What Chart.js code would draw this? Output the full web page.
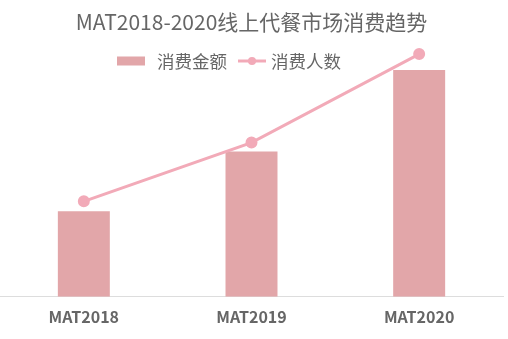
<!DOCTYPE html>
<html>
<head>
<meta charset="utf-8">
<script src="https://cdn.jsdelivr.net/npm/chart.js@4/dist/chart.umd.min.js"></script>
<style>
  html, body { margin: 0; padding: 0; background: #fff; }
  #wrap { width: 508px; height: 339px; }
</style>
</head>
<body>
<div id="wrap"><canvas id="chart"></canvas></div>
<script>
const categories = ["MAT2018", "MAT2019", "MAT2020"];
const amountValues = [33.3, 56.6, 88.4]; // 消费金额 (bars)
const userValues = [37.2, 60.1, 94.6]; // 消费人数 (line)

const barColor = "#e2a6a9";
const lineColor = "#f2aab8";
const textColor = "#666666";
const cjkFont = "'Microsoft YaHei', 'Noto Sans CJK SC', sans-serif";

// legend drawn by hand so it can sit over the plot like the original
const legendPlugin = {
  id: "customLegend",
  afterDraw(chart) {
    const ctx = chart.ctx;
    const y = 61;
    ctx.save();
    ctx.font = "17.5px " + cjkFont;
    ctx.textBaseline = "middle";

    let x = 117;
    ctx.fillStyle = barColor;
    ctx.fillRect(x, y - 4.5, 28, 9); // bar swatch
    ctx.fillStyle = textColor;
    ctx.fillText("消费金额", x + 40, y);
    x += 40 + ctx.measureText("消费金额").width + 11;

    ctx.strokeStyle = lineColor;
    ctx.lineWidth = 3;
    ctx.beginPath();
    ctx.moveTo(x, y);
    ctx.lineTo(x + 28, y);
    ctx.stroke();
    ctx.fillStyle = lineColor;
    ctx.beginPath();
    ctx.arc(x + 14, y, 4, 0, Math.PI * 2);
    ctx.fill();
    ctx.fillStyle = textColor;
    ctx.fillText("消费人数", x + 33, y);
    ctx.restore();
  }
};

new Chart(document.getElementById("chart"), {
  type: "bar",
  plugins: [legendPlugin],
  data: {
    labels: categories,
    datasets: [
      {
        type: "bar",
        label: "消费金额",
        data: amountValues,
        backgroundColor: barColor,
        categoryPercentage: 1,
        barPercentage: 0.31,
        order: 1
      },
      {
        type: "line",
        label: "消费人数",
        data: userValues,
        borderColor: lineColor,
        backgroundColor: lineColor,
        borderWidth: 3,
        pointRadius: 4.5,
        pointHoverRadius: 4.5,
        tension: 0,
        clip: false,
        order: 0
      }
    ]
  },
  options: {
    responsive: true,
    maintainAspectRatio: false,
    animation: false,
    layout: { autoPadding: false, padding: { left: 0, right: 5, top: 0, bottom: 1 } },
    plugins: {
      legend: { display: false },
      tooltip: { enabled: false },
      title: {
        display: true,
        text: "MAT2018-2020线上代餐市场消费趋势",
        color: textColor,
        font: { family: cjkFont, size: 21, weight: "normal" },
        padding: { top: 9, bottom: 6 }
      }
    },
    scales: {
      x: {
        grid: { display: false, drawTicks: false },
        border: { display: true, color: "#dddddd", width: 1 },
        ticks: {
          color: textColor,
          padding: 11,
          font: { family: cjkFont, size: 16, weight: "bold" }
        }
      },
      y: {
        display: false,
        min: 0,
        max: 100
      }
    }
  }
});
</script>
</body>
</html>
